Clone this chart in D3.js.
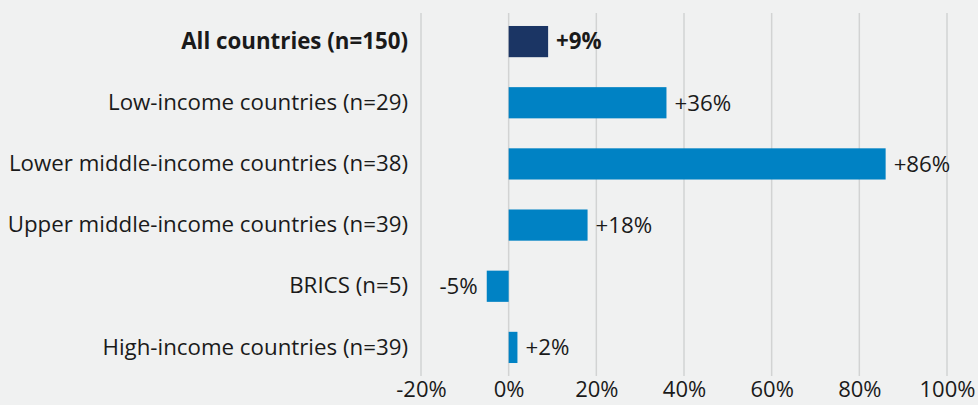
<!DOCTYPE html>
<html><head><meta charset="utf-8">
<script src="https://cdn.jsdelivr.net/npm/d3@7"></script>
<style>
html,body{margin:0;padding:0;background:#f0f1f1;}
svg{display:block;font-family:"Open Sans",sans-serif;}
</style></head>
<body><svg id="c" width="978" height="405"></svg>
<script>
const categories = ["All countries (n=150)","Low-income countries (n=29)","Lower middle-income countries (n=38)","Upper middle-income countries (n=39)","BRICS (n=5)","High-income countries (n=39)"];
const values = [9, 36, 86, 18, -5, 2];
const valueLabels = ["+9%","+36%","+86%","+18%","-5%","+2%"];
const tickValues = [-20, 0, 20, 40, 60, 80, 100];

const svg = d3.select("#c");
svg.append("rect").attr("width",978).attr("height",405).attr("fill","#f0f1f1");

const x = d3.scaleLinear().domain([-20,100]).range([421,947]);
const y = d3.scaleBand().domain(categories).range([11,378]).paddingInner(0.49).paddingOuter(0.245);

// gridlines
svg.append("g").selectAll("line").data(tickValues).join("line")
  .attr("x1",d=>x(d)).attr("x2",d=>x(d)).attr("y1",13).attr("y2",376)
  .attr("stroke","#d2d3d3").attr("stroke-width",1.5);

// x axis labels
const xAxis = d3.axisBottom(x).tickValues(tickValues).tickFormat(d=>d+"%").tickSize(0).tickPadding(0);
const gx = svg.append("g").attr("transform","translate(0,381)").call(xAxis);
gx.attr("font-size",null).attr("font-family",null);
gx.select(".domain").remove();
gx.selectAll("text").style("font-size","22px").attr("fill","#1a1a1a").style("font-family","'Open Sans', sans-serif").attr("dy","0.71em");

// y axis labels
const yAxis = d3.axisLeft(y).tickSize(0).tickPadding(0);
const gy = svg.append("g").attr("transform","translate(408,0)").call(yAxis);
gy.attr("font-size",null).attr("font-family",null);
gy.select(".domain").remove();
gy.selectAll("text").style("font-size","22.3px").attr("fill","#1a1a1a").style("font-family","'Open Sans', sans-serif")
  .attr("font-weight",(d,i)=>i===0?700:400);

// bars
svg.append("g").selectAll("rect").data(values).join("rect")
  .attr("x",d=>x(Math.min(0,d)))
  .attr("width",d=>Math.abs(x(d)-x(0)))
  .attr("y",(d,i)=>y(categories[i]))
  .attr("height",y.bandwidth())
  .attr("fill",(d,i)=>i===0?"#1b3564":"#0082c4");

// value labels
svg.append("g").selectAll("text").data(values).join("text")
  .attr("x",d=>d>=0?x(d)+8:x(d)-9)
  .attr("y",(d,i)=>y(categories[i])+y.bandwidth()/2)
  .attr("dy","0.35em")
  .attr("text-anchor",d=>d>=0?"start":"end")
  .style("font-size","22.3px")
  .attr("font-weight",(d,i)=>i===0?700:400)
  .attr("fill","#1a1a1a")
  .text((d,i)=>valueLabels[i]);
</script></body></html>
